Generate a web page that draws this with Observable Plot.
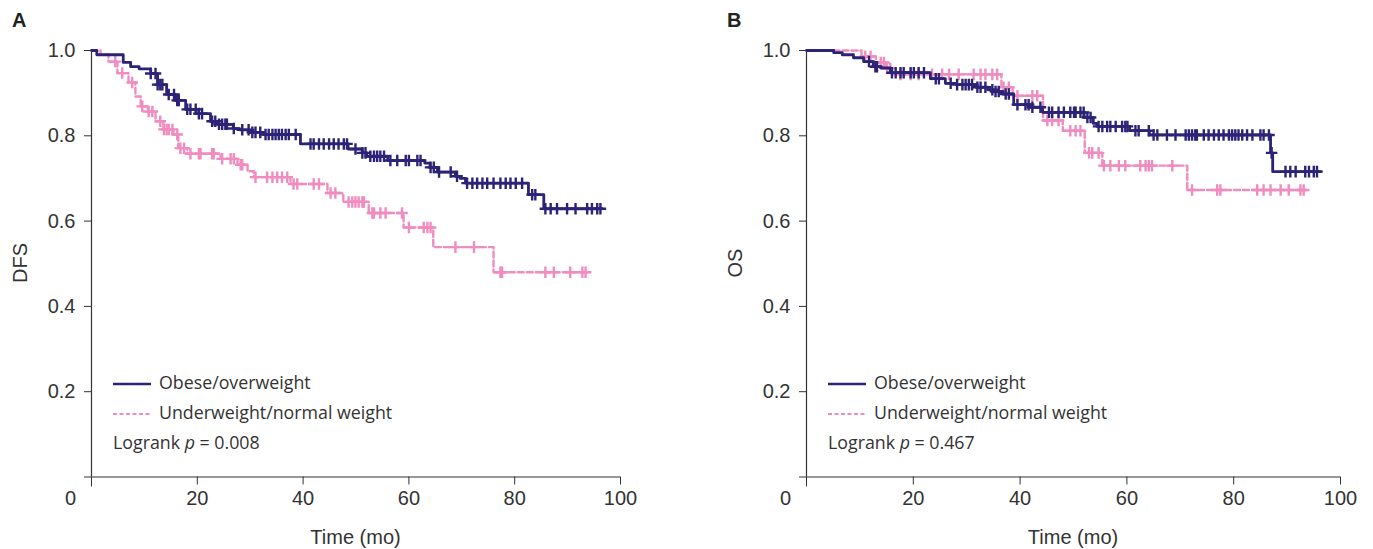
<!DOCTYPE html>
<html><head><meta charset="utf-8">
<script src="https://cdn.jsdelivr.net/npm/d3@7"></script>
<script src="https://cdn.jsdelivr.net/npm/@observablehq/plot@0.6"></script>
<style>
body{margin:0;background:#fff;}
#wrap{position:relative;width:1373px;height:549px;overflow:hidden;background:#fff;}
.panel{position:absolute;top:0;}
.plabel{position:absolute;top:9px;font:bold 20px "Liberation Sans",Arial,sans-serif;color:#222;}
.ytitle{position:absolute;font:20px "Liberation Sans",Arial,sans-serif;color:#333;transform:translate(-50%,-50%) rotate(-90deg);white-space:nowrap;}
.xtitle{position:absolute;font:20px "Liberation Sans",Arial,sans-serif;color:#333;transform:translate(-50%,-50%);white-space:nowrap;}
.leg{position:absolute;font:17.8px "Open Sans",sans-serif;color:#333;white-space:nowrap;line-height:20px;}
.leg svg{vertical-align:middle;margin-right:8px;}
</style>
</head><body>
<div id="wrap"></div>
<script>
// ---------- Data ----------
const seriesNames = ["Obese/overweight", "Underweight/normal weight"];
const colors = ["#2c2377", "#f08cbf"];

// Panel A (DFS)
const aObeseT = [0, 1, 6, 7.4, 9, 11.2, 12.5, 14.2, 15.9, 17.8, 19.8, 22.5, 24, 26.8, 28, 30, 32.5, 39.5, 48.5, 51.2, 52, 56, 63, 64, 65.4, 68.8, 69.7, 70.7, 82.6, 85.5, 96.5];
const aObeseS = [1, 0.99, 0.972, 0.962, 0.957, 0.946, 0.92, 0.897, 0.883, 0.862, 0.852, 0.834, 0.827, 0.817, 0.814, 0.808, 0.803, 0.781, 0.769, 0.76, 0.752, 0.742, 0.736, 0.726, 0.715, 0.705, 0.70, 0.689, 0.662, 0.629, 0.629];
const aObeseCens = [11.2, 12.1, 12.5, 13.0, 13.4, 14.6, 15.6, 16.2, 16.5, 18.1, 18.7, 19.7, 20.3, 20.9, 22.8, 23.4, 24.1, 24.7, 25.3, 25.6, 26.9, 28.5, 29.7, 30.4, 31, 31.9, 32.9, 33.5, 34.2, 34.8, 35.4, 36, 36.7, 37.3, 38.6, 41.4, 42, 43, 43.9, 44.9, 45.8, 46.7, 47.7, 48.3, 49.9, 51.2, 51.8, 52.7, 53.4, 54, 54.6, 55.3, 56.5, 57.8, 59.4, 60, 61.6, 62.2, 64.1, 64.7, 65.7, 67.9, 69.1, 71, 72, 72.9, 73.9, 74.8, 76, 77.3, 78.3, 79.2, 80.2, 81.4, 83.3, 83.9, 85.8, 86.8, 88, 89.9, 91.5, 93.7, 94.6, 95.6, 96.2];
const aNormalT = [0, 1.7, 3.2, 4.9, 7, 8.3, 9.3, 10.6, 12.1, 13.6, 15.5, 16.4, 18.1, 24.4, 27.6, 29.5, 30.7, 37.6, 44.6, 47.6, 52.4, 59, 64.6, 76, 93.7];
const aNormalS = [1, 0.991, 0.974, 0.947, 0.925, 0.892, 0.869, 0.857, 0.834, 0.815, 0.803, 0.771, 0.758, 0.746, 0.732, 0.717, 0.703, 0.687, 0.666, 0.645, 0.619, 0.585, 0.539, 0.48, 0.48];
const aNormalCens = [4.5, 5.8, 7.7, 9.6, 10.8, 11.5, 13, 13.7, 14.2, 14.6, 15.3, 16.2, 16.8, 17.5, 18.7, 20.3, 20.6, 22.8, 23.1, 24.7, 26.3, 26.9, 28.2, 28.5, 31, 33.2, 34.2, 35.1, 36, 37, 38.2, 38.9, 42, 43, 45.2, 46.1, 48.6, 49.3, 49.9, 50.5, 51.2, 51.5, 53.1, 53.4, 54.6, 55.6, 58.7, 60, 62.8, 63.5, 64.1, 68.8, 72.3, 77.3, 77.6, 85.8, 87.4, 90.5, 92.8, 93.4];

// Panel B (OS)
const bObeseT = [0, 5.1, 6.7, 8.8, 10.7, 12.5, 13.9, 15.7, 23.2, 26, 28, 32, 34, 35, 36.7, 38.8, 42, 44.2, 52, 53.7, 54.4, 60.5, 64.2, 86.9, 87.3, 96.3];
const bObeseS = [1, 0.995, 0.99, 0.983, 0.974, 0.962, 0.959, 0.948, 0.934, 0.923, 0.92, 0.914, 0.908, 0.904, 0.898, 0.873, 0.867, 0.855, 0.843, 0.829, 0.822, 0.812, 0.802, 0.76, 0.716, 0.716];
const bObeseCens = [11.7, 12.9, 13.2, 16, 16.7, 17.6, 18.2, 19.5, 20.1, 21, 22, 24.2, 24.8, 27, 28.2, 29.2, 29.8, 30.4, 31, 32, 32.6, 33.5, 34.8, 35.4, 36, 37.3, 37.9, 39.5, 41, 41.6, 42.3, 43.8, 45.4, 46, 47.2, 48.2, 49.4, 50.1, 50.4, 51.3, 51.9, 52.6, 53.2, 54.7, 55.4, 56.3, 56.9, 57.9, 59.1, 59.7, 60.1, 61.6, 62.2, 64.1, 65, 65.7, 67.5, 69.1, 71, 71.6, 72.2, 72.8, 73.1, 74.4, 75.3, 76.3, 77.2, 78.1, 79.1, 79.7, 80.3, 80.9, 81.6, 82.5, 83.5, 85, 85.6, 86.6, 87.1, 89.7, 90.6, 91.6, 93.4, 94.1, 95, 95.6];
const bNormalT = [0, 10.3, 13, 14.8, 16, 36.5, 38.6, 44.3, 48, 52.1, 55.4, 71.3, 93.4];
const bNormalS = [1, 0.986, 0.972, 0.958, 0.944, 0.914, 0.894, 0.836, 0.812, 0.76, 0.73, 0.673, 0.673];
const bNormalCens = [11, 12, 13.9, 14.5, 15.1, 15.7, 17.6, 19.5, 21, 23.5, 25.4, 26.7, 28.5, 31.3, 32.6, 33.5, 34.8, 35.7, 36.9, 37.9, 39.5, 42.3, 43.2, 45.1, 46, 47.2, 49.4, 50.4, 51.3, 52.9, 53.5, 54.7, 55.7, 56.9, 58.5, 59.7, 62.5, 63.5, 64.1, 64.7, 68.5, 72.2, 76.9, 77.5, 84.4, 85.6, 86.9, 88.8, 90.3, 92.5, 93.1];

const xTicks = [20, 40, 60, 80, 100];
const yTicks = [0, 0.2, 0.4, 0.6, 0.8, 1.0];

// ---------- helpers ----------
function survAt(T, S, t) { let s = S[0]; for (let i = 0; i < T.length; i++) if (T[i] <= t) s = S[i]; return s; }
function curve(T, S, g) { return T.map((t, i) => ({t, s: S[i], g})); }
function cens(C, T, S, g) { return C.map(t => ({t, s: survAt(T, S, t), g})); }

function makePanel(p) {
  const lines = [curve(p.oT, p.oS, 0), curve(p.nT, p.nS, 1)];
  const censor = [cens(p.oC, p.oT, p.oS, 0), cens(p.nC, p.nT, p.nS, 1)];
  return Plot.plot({
    width: p.width, height: 549,
    marginLeft: 91, marginRight: p.marginRight, marginTop: 50, marginBottom: 72.5,
    x: {domain: [0, 100]},
    y: {domain: [0, 1]},
    style: {fontFamily: "'Liberation Sans', Arial, sans-serif", fontSize: "20px", color: "#333", background: "transparent", overflow: "visible"},
    marks: [
      Plot.axisY(yTicks, {tickSize: 7, tickPadding: 9, tickFormat: d => d === 0 ? "" : d3.format(".1f")(d), label: null, stroke: "#333"}),
      Plot.axisX(xTicks, {tickSize: 8, tickPadding: 6, label: null, stroke: "#333"}),
      Plot.axisX([0], {tickSize: 10, tickFormat: () => "", label: null, stroke: "#333"}),
      Plot.axisX([0], {tickSize: 0, tickPadding: 14, dx: -21, tickFormat: () => "0", label: null}),
      Plot.ruleX([0], {stroke: "#333", strokeWidth: 1.2}),
      Plot.ruleY([0], {stroke: "#333", strokeWidth: 1.2}),
      Plot.line(lines[1], {x: "t", y: "s", curve: "step-after", stroke: colors[1], strokeWidth: 2.4, strokeDasharray: "6,3"}),
      Plot.dot(censor[1], {x: "t", y: "s", symbol: "plus", r: 3.8, stroke: colors[1], strokeWidth: 2.4}),
      Plot.line(lines[0], {x: "t", y: "s", curve: "step-after", stroke: colors[0], strokeWidth: 2.8}),
      Plot.dot(censor[0], {x: "t", y: "s", symbol: "plus", r: 3.8, stroke: colors[0], strokeWidth: 2.4})
    ]
  });
}

const panels = [
  {left: 0, width: 686, marginRight: 66, label: "A", ytitle: "DFS", p: "0.008",
   oT: aObeseT, oS: aObeseS, oC: aObeseCens, nT: aNormalT, nS: aNormalS, nC: aNormalCens},
  {left: 715, width: 658, marginRight: 33, label: "B", ytitle: "OS", p: "0.467",
   oT: bObeseT, oS: bObeseS, oC: bObeseCens, nT: bNormalT, nS: bNormalS, nC: bNormalCens}
];

const wrap = document.getElementById("wrap");
panels.forEach(p => {
  const div = document.createElement("div");
  div.className = "panel";
  div.style.left = p.left + "px";
  div.appendChild(makePanel(p));
  wrap.appendChild(div);

  const lab = document.createElement("div");
  lab.className = "plabel"; lab.textContent = p.label;
  lab.style.left = (p.left + 12) + "px";
  wrap.appendChild(lab);

  const yt = document.createElement("div");
  yt.className = "ytitle"; yt.textContent = p.ytitle;
  yt.style.left = (p.left + 20) + "px"; yt.style.top = "263px";
  wrap.appendChild(yt);

  const xt = document.createElement("div");
  xt.className = "xtitle"; xt.textContent = "Time (mo)";
  xt.style.left = (p.left + 91 + (p.width - 91 - p.marginRight) / 2) + "px"; xt.style.top = "537px";
  wrap.appendChild(xt);

  const legTop = [372, 402, 432];
  seriesNames.forEach((name, i) => {
    const row = document.createElement("div");
    row.className = "leg";
    row.style.left = (p.left + 113) + "px"; row.style.top = legTop[i] + "px";
    const dash = i === 1 ? ' stroke-dasharray="4,2.5"' : '';
    row.innerHTML = `<svg width="38" height="6"><line x1="0" y1="3" x2="38" y2="3" stroke="${colors[i]}" stroke-width="${i ? 2 : 2.6}"${dash}/></svg>${name}`;
    wrap.appendChild(row);
  });
  const lr = document.createElement("div");
  lr.className = "leg";
  lr.style.left = (p.left + 113) + "px"; lr.style.top = legTop[2] + "px";
  lr.innerHTML = `Logrank <i>p</i> = ${p.p}`;
  wrap.appendChild(lr);
});
</script>
</body></html>
